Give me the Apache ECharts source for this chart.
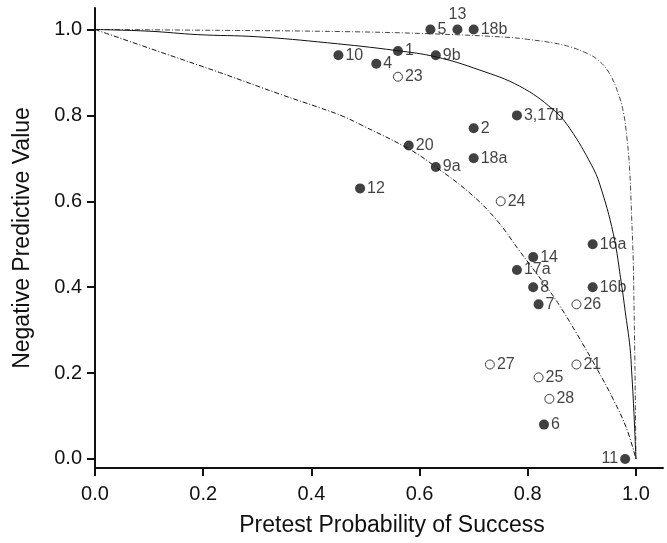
<!DOCTYPE html>
<html>
<head>
<meta charset="utf-8">
<script src="https://cdn.jsdelivr.net/npm/echarts@6/dist/echarts.min.js"></script>
<style>
  html, body { margin: 0; padding: 0; background: #fff; }
  #chart { width: 667px; height: 543px; }
</style>
</head>
<body>
<div id="chart"></div>
<script>
// studies, filled markers
const filledNames = ['5', '13', '18b', '10', '1', '4', '9b', '3,17b', '2', '20', '18a', '9a', '12', '16a', '14', '17a', '8', '16b', '7', '6', '11'];
const filledX = [0.62, 0.67, 0.70, 0.45, 0.56, 0.52, 0.63, 0.78, 0.70, 0.58, 0.70, 0.63, 0.49, 0.92, 0.81, 0.78, 0.81, 0.92, 0.82, 0.83, 0.98];
const filledY = [1.00, 1.00, 1.00, 0.94, 0.95, 0.92, 0.94, 0.80, 0.77, 0.73, 0.70, 0.68, 0.63, 0.50, 0.47, 0.44, 0.40, 0.40, 0.36, 0.08, 0.00];

// studies, open markers
const openNames = ['23', '24', '26', '27', '21', '25', '28'];
const openX = [0.56, 0.75, 0.89, 0.73, 0.89, 0.82, 0.84];
const openY = [0.89, 0.60, 0.36, 0.22, 0.22, 0.19, 0.14];

// reference curves
const outerX = [0, 0.23, 0.46, 0.62, 0.76, 0.80, 0.85, 0.88, 0.91, 0.93, 0.95, 0.967, 0.977, 0.983, 0.988, 0.992, 0.995, 0.996, 0.998, 0.999, 1.0];
const outerY = [1.0, 0.998, 0.995, 0.990, 0.982, 0.977, 0.968, 0.959, 0.944, 0.929, 0.900, 0.852, 0.806, 0.751, 0.681, 0.565, 0.46, 0.39, 0.23, 0.12, 0.0];

const midX = [0, 0.10, 0.19, 0.30, 0.43, 0.557, 0.631, 0.71, 0.785, 0.847, 0.878, 0.918, 0.933, 0.958, 0.9735, 0.98, 0.989, 0.992, 0.995, 0.998, 1.0];
const midY = [1.0, 0.996, 0.988, 0.983, 0.969, 0.951, 0.936, 0.906, 0.868, 0.8135, 0.769, 0.684, 0.640, 0.525, 0.405, 0.345, 0.26, 0.205, 0.14, 0.06, 0.0];

const innerX = [0, 0.115, 0.23, 0.345, 0.415, 0.46, 0.49, 0.58, 0.63, 0.693, 0.742, 0.785, 0.841, 0.859, 0.89, 0.927, 0.958, 0.983, 1.0];
const innerY = [1.0, 0.950, 0.900, 0.848, 0.818, 0.797, 0.779, 0.722, 0.680, 0.619, 0.557, 0.484, 0.390, 0.357, 0.293, 0.212, 0.139, 0.070, 0.0];

const ticks = [0, 0.2, 0.4, 0.6, 0.8, 1.0];

const zip = (xs, ys) => xs.map((x, i) => [x, ys[i]]);

// label side for a few points
const labelSide = { '13': 'top', '11': 'left' };
const pts = (names, xs, ys) => names.map((n, i) => {
  const p = { name: n, value: [xs[i], ys[i]] };
  if (labelSide[n]) p.label = { position: labelSide[n] };
  return p;
});

const axisCommon = {
  type: 'value',
  splitLine: { show: false },
  axisLine: { show: true, onZero: false, lineStyle: { color: '#111', width: 2 } },
  axisTick: { show: true, length: 8, lineStyle: { color: '#111', width: 2 }, customValues: ticks },
  axisLabel: {
    color: '#111', fontSize: 20, fontFamily: 'Liberation Sans, Arial',
    customValues: ticks,
    formatter: v => v.toFixed(1)
  },
  nameLocation: 'middle',
  nameTextStyle: { color: '#111', fontSize: 23, fontFamily: 'Liberation Sans, Arial' }
};

const curveLine = (data, color, type) => ({
  type: 'line',
  data: data,
  symbol: 'none',
  smooth: 0.4,
  silent: true,
  z: 1,
  lineStyle: { color: color, width: 1, type: type }
});

const labelStyle = {
  show: true,
  position: 'right',
  distance: 2,
  color: '#111',
  fontSize: 16,
  fontFamily: 'Liberation Sans, Arial',
  formatter: '{b}'
};

const chart = echarts.init(document.getElementById('chart'));
chart.setOption({
  animation: false,
  grid: { left: 95, right: 4, top: 8, bottom: 75, outerBoundsMode: 'none' },
  xAxis: Object.assign({}, axisCommon, {
    min: 0, max: 1.05,
    name: 'Pretest Probability of Success',
    nameGap: 46,
    nameTextStyle: Object.assign({}, axisCommon.nameTextStyle, { padding: [0, 0, 0, 26] }),
    axisLabel: Object.assign({}, axisCommon.axisLabel, { margin: 16 })
  }),
  yAxis: Object.assign({}, axisCommon, {
    min: -0.021, max: 1.05,
    name: 'Negative Predictive Value',
    nameGap: 61,
    axisLabel: Object.assign({}, axisCommon.axisLabel, { margin: 13 })
  }),
  series: [
    curveLine(zip(outerX, outerY), '#444', [5, 2, 1, 2]),
    curveLine(zip(midX, midY), '#111', 'solid'),
    curveLine(zip(innerX, innerY), '#111', [5, 2, 1, 2]),
    {
      type: 'scatter',
      data: pts(filledNames, filledX, filledY),
      symbol: 'circle',
      symbolSize: 10,
      z: 3,
      itemStyle: { color: '#111' },
      label: labelStyle
    },
    {
      type: 'scatter',
      data: pts(openNames, openX, openY),
      symbol: 'circle',
      symbolSize: 9,
      z: 3,
      itemStyle: { color: '#fff', borderColor: '#111', borderWidth: 1 },
      label: labelStyle
    }
  ]
});
</script>
</body>
</html>
